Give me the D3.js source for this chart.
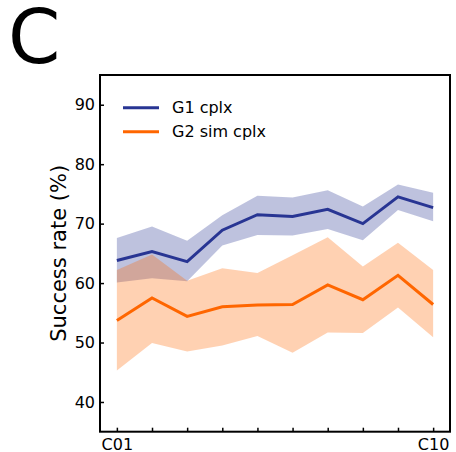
<!DOCTYPE html>
<html>
<head>
<meta charset="utf-8">
<script src="https://cdn.jsdelivr.net/npm/d3@7"></script>
<style>
  html, body { margin: 0; padding: 0; background: #fff; }
  svg { display: block; font-family: "DejaVu Sans", sans-serif; }
</style>
</head>
<body>
<svg id="chart" width="456" height="452"></svg>
<script>
// ---- data ----
const categories = ["C01","C02","C03","C04","C05","C06","C07","C08","C09","C10"];
const tickLabels = ["C01","","","","","","","","","C10"];
const yTicks = [40, 50, 60, 70, 80, 90];

const g1Mean  = [63.8, 65.3, 63.6, 68.9, 71.5, 71.2, 72.4, 70.0, 74.5, 72.7];
const g1Upper = [67.6, 69.5, 67.1, 71.4, 74.7, 74.4, 75.6, 72.9, 76.6, 75.2];
const g1Lower = [60.1, 60.8, 60.3, 66.3, 68.1, 68.0, 69.1, 67.2, 72.3, 70.4];

const g2Mean  = [53.7, 57.5, 54.4, 56.0, 56.3, 56.4, 59.7, 57.2, 61.3, 56.4];
const g2Upper = [62.2, 64.8, 60.4, 62.5, 61.7, 64.7, 67.7, 62.8, 66.8, 62.2];
const g2Lower = [45.3, 49.9, 48.5, 49.5, 51.1, 48.3, 51.7, 51.6, 55.9, 50.9];

const seriesNames = ["G1 cplx", "G2 sim cplx"];
const seriesColors = ["#283593", "#ff6600"];

// ---- layout ----
const svg = d3.select("#chart");
const L = 100, R = 450, T = 75, B = 431.7;

const x = d3.scalePoint().domain(categories).range([L, R]).padding(0.48);
const y = d3.scaleLinear().domain([35, 95]).range([B, T]);

const series = [
  { name: seriesNames[0], color: seriesColors[0], mean: g1Mean, lo: g1Lower, hi: g1Upper },
  { name: seriesNames[1], color: seriesColors[1], mean: g2Mean, lo: g2Lower, hi: g2Upper }
];

const area = d3.area()
  .x((d, i) => x(categories[i]))
  .y0(d => y(d[0]))
  .y1(d => y(d[1]));
const line = d3.line()
  .x((d, i) => x(categories[i]))
  .y(d => y(d));

const plot = svg.append("g");
series.forEach(s => {
  plot.append("path")
    .datum(s.lo.map((v, i) => [v, s.hi[i]]))
    .attr("d", area)
    .attr("fill", s.color)
    .attr("fill-opacity", 0.3)
    .attr("stroke", "none");
  plot.append("path")
    .datum(s.mean)
    .attr("d", line)
    .attr("fill", "none")
    .attr("stroke", s.color)
    .attr("stroke-width", 3)
    .attr("stroke-linejoin", "miter");
});

// ---- axes ----
const yAxis = d3.axisLeft(y).tickValues(yTicks).tickSizeInner(-4).tickSizeOuter(0).tickPadding(5);
const gy = svg.append("g").attr("transform", `translate(${L},0)`).call(yAxis);
gy.select(".domain").remove();
gy.selectAll(".tick line").attr("stroke", "#000").attr("stroke-width", 1.5);
gy.selectAll(".tick text").attr("font-size", 16).attr("fill", "#000")
  .attr("font-family", "DejaVu Sans, sans-serif");

const xAxis = d3.axisBottom(x).tickSizeInner(-4).tickSizeOuter(0).tickPadding(7)
  .tickFormat((d, i) => tickLabels[i]);
const gx = svg.append("g").attr("transform", `translate(0,${B})`).call(xAxis);
gx.select(".domain").remove();
gx.selectAll(".tick line").attr("stroke", "#000").attr("stroke-width", 1.5);
gx.selectAll(".tick text").attr("font-size", 16).attr("fill", "#000")
  .attr("font-family", "DejaVu Sans, sans-serif");

// frame
svg.append("rect")
  .attr("x", L).attr("y", T).attr("width", R - L).attr("height", B - T)
  .attr("fill", "none").attr("stroke", "#000").attr("stroke-width", 2);

// y label
svg.append("text")
  .attr("transform", `translate(66,${(T + B) / 2}) rotate(-90)`)
  .attr("text-anchor", "middle")
  .attr("font-size", 21)
  .attr("fill", "#000")
  .text("Success rate (%)");

// legend
const legend = svg.append("g");
series.forEach((s, i) => {
  const ly = 107.7 + i * 24;
  legend.append("line")
    .attr("x1", 123).attr("x2", 159).attr("y1", ly).attr("y2", ly)
    .attr("stroke", s.color).attr("stroke-width", 3);
  legend.append("text")
    .attr("x", 172).attr("y", ly).attr("dy", "0.36em")
    .attr("font-size", 16).attr("fill", "#000")
    .text(s.name);
});

// panel label
svg.append("text")
  .attr("x", 8).attr("y", 63)
  .attr("font-size", 75)
  .attr("fill", "#000")
  .text("C");
</script>
</body>
</html>
